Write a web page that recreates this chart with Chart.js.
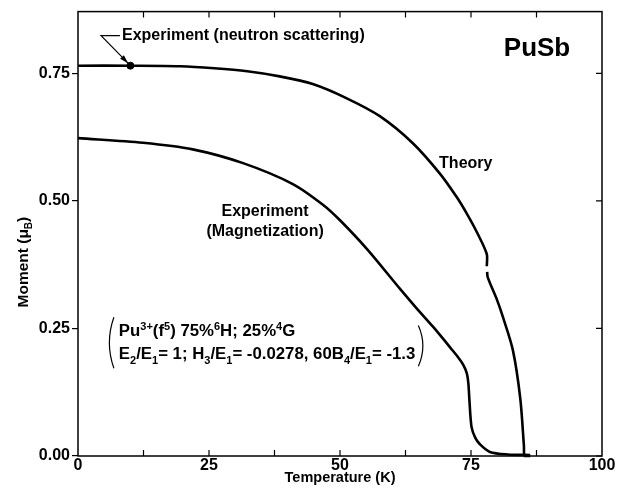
<!DOCTYPE html>
<html>
<head>
<meta charset="utf-8">
<script src="https://cdn.jsdelivr.net/npm/chart.js@4.4.1/dist/chart.umd.min.js"></script>
<style>
  html, body { margin: 0; padding: 0; background: #fff; }
</style>
</head>
<body>
<canvas id="chart" width="624" height="493"></canvas>
<script>
// calculated moment (null = pen lift in the curve near 78 K)
const theoryTemps = [0, 10, 19.5, 26, 32.3, 38.5, 44.8, 51.3, 57.6, 63.9, 69.1, 72.3, 74.2, 76.2, 78.0, 78.02, 78.05, 78.08, 78.2, 80.0, 81.1, 83.0, 84.4, 85.1, 85.25, 86.3];
const theoryMoments = [0.765, 0.765, 0.764, 0.760, 0.754, 0.744, 0.729, 0.701, 0.666, 0.613, 0.553, 0.507, 0.475, 0.437, 0.396, 0.372, null, 0.361, 0.350, 0.305, 0.272, 0.207, 0.113, 0.020, 0.0, 0.0];

// measured magnetization
const magTemps = [0, 12.4, 21.9, 31.5, 41.0, 46.8, 50.0, 55.2, 61.5, 64.5, 67.7, 69.1, 71.0, 72.5, 73.5, 74.2, 74.5, 74.7, 75.1, 75.8, 76.7, 78.6, 82.0, 86.3];
const magMoments = [0.623, 0.614, 0.601, 0.574, 0.533, 0.492, 0.462, 0.405, 0.327, 0.291, 0.254, 0.237, 0.213, 0.194, 0.179, 0.162, 0.142, 0.109, 0.057, 0.036, 0.023, 0.008, 0.003, 0.002];

// neutron scattering point
const neutronTemps = [10];
const neutronMoments = [0.765];

const xTickValues = [0, 25, 50, 75, 100];
const xMinorTicks = [12.5, 25, 37.5, 50, 62.5, 75, 87.5];
const yTickValues = [0, 0.25, 0.5, 0.75];

const FONT = '"Liberation Sans", Arial, sans-serif';
const toPoints = (xs, ys) => xs.map((x, i) => ({ x, y: ys[i] }));

function richWidth(ctx, parts, size) {
  let w = 0;
  parts.forEach(([txt, kind]) => {
    const s = kind ? Math.round(size * 0.66) : size;
    ctx.font = `bold ${s}px ${FONT}`;
    w += ctx.measureText(txt).width;
  });
  return w;
}

function drawRich(ctx, x, y, parts, size) {
  ctx.textAlign = 'left';
  ctx.textBaseline = 'alphabetic';
  let cx = x;
  parts.forEach(([txt, kind]) => {
    const s = kind ? Math.round(size * 0.66) : size;
    ctx.font = `bold ${s}px ${FONT}`;
    const dy = kind === 'sup' ? -size * 0.38 : kind === 'sub' ? size * 0.25 : 0;
    ctx.fillText(txt, cx, y + dy);
    cx += ctx.measureText(txt).width;
  });
  return cx;
}

const figurePlugin = {
  id: 'figure',
  afterDraw(chart) {
    const { ctx, chartArea: a, scales: { x, y } } = chart;
    const px = (v) => x.getPixelForValue(v);
    const py = (v) => y.getPixelForValue(v);
    ctx.save();
    ctx.strokeStyle = '#000';
    ctx.fillStyle = '#000';

    // frame
    ctx.lineWidth = 1.5;
    ctx.strokeRect(a.left, a.top, a.right - a.left, a.bottom - a.top);

    // inward ticks on top, bottom and right
    ctx.lineWidth = 1.2;
    ctx.beginPath();
    xMinorTicks.forEach((v) => {
      const xx = px(v);
      ctx.moveTo(xx, a.bottom);
      ctx.lineTo(xx, a.bottom - 6);
      ctx.moveTo(xx, a.top);
      ctx.lineTo(xx, a.top + 6);
    });
    yTickValues.forEach((v) => {
      const yy = py(v);
      ctx.moveTo(a.right, yy);
      ctx.lineTo(a.right - 6, yy);
    });
    ctx.stroke();

    // arrow to the neutron point
    const p0 = [px(8.0), py(0.824)];
    const p1 = [px(4.4), py(0.824)];
    const p2 = [px(9.55), py(0.770)];
    ctx.lineWidth = 1.2;
    ctx.beginPath();
    ctx.moveTo(...p0);
    ctx.lineTo(...p1);
    ctx.lineTo(...p2);
    ctx.stroke();
    const ang = Math.atan2(p2[1] - p1[1], p2[0] - p1[0]);
    ctx.beginPath();
    ctx.moveTo(p2[0], p2[1]);
    ctx.lineTo(p2[0] - 9 * Math.cos(ang - 0.3), p2[1] - 9 * Math.sin(ang - 0.3));
    ctx.lineTo(p2[0] - 9 * Math.cos(ang + 0.3), p2[1] - 9 * Math.sin(ang + 0.3));
    ctx.closePath();
    ctx.fill();

    // labels
    ctx.font = `bold 16px ${FONT}`;
    ctx.textAlign = 'left';
    ctx.textBaseline = 'middle';
    ctx.fillText('Experiment (neutron scattering)', px(8.4), py(0.824));
    ctx.textAlign = 'center';
    ctx.fillText('Theory', px(74.0), py(0.574));
    ctx.fillText('Experiment', px(35.7), py(0.480));
    ctx.fillText('(Magnetization)', px(35.7), py(0.439));
    ctx.font = `bold 26px ${FONT}`;
    ctx.fillText('PuSb', px(87.6), py(0.799));

    // crystal-field parameters
    const line1 = [['Pu'], ['3+', 'sup'], ['(f'], ['5', 'sup'], [') 75%'], ['6', 'sup'], ['H; 25%'], ['4', 'sup'], ['G']];
    const line2 = [['E'], ['2', 'sub'], ['/E'], ['1', 'sub'], ['= 1; H'], ['3', 'sub'], ['/E'], ['1', 'sub'], ['= -0.0278, 60B'], ['4', 'sub'], ['/E'], ['1', 'sub'], ['= -1.3']];
    const lx = px(7.8);
    drawRich(ctx, lx, py(0.246) + 6, line1, 16.8);
    const end2 = drawRich(ctx, lx, py(0.201) + 6, line2, 16.8);
    ctx.lineWidth = 1.2;
    ctx.beginPath();
    ctx.moveTo(lx - 5, py(0.272));
    ctx.quadraticCurveTo(lx - 14, py(0.222), lx - 5, py(0.172));
    ctx.moveTo(end2 + 3, py(0.256));
    ctx.quadraticCurveTo(end2 + 12, py(0.216), end2 + 3, py(0.176));
    ctx.stroke();

    // y axis title with subscript
    const yt = [['Moment ('], ['\u03bc'], ['B', 'sub'], [')']];
    const w = richWidth(ctx, yt, 15.5);
    ctx.translate(23, py(0.380));
    ctx.rotate(-Math.PI / 2);
    drawRich(ctx, -w / 2, 5, yt, 15.5);
    ctx.restore();
  }
};

new Chart(document.getElementById('chart'), {
  type: 'line',
  data: {
    datasets: [
      {
        label: 'Theory',
        data: toPoints(theoryTemps, theoryMoments),
        borderColor: '#000',
        borderWidth: 2.6,
        pointRadius: 0,
        tension: 0.3,
        spanGaps: false,
        clip: 4,
      },
      {
        label: 'Experiment (Magnetization)',
        data: toPoints(magTemps, magMoments),
        borderColor: '#000',
        borderWidth: 2.6,
        pointRadius: 0,
        tension: 0.3,
        clip: 4,
      },
      {
        label: 'Experiment (neutron scattering)',
        data: toPoints(neutronTemps, neutronMoments),
        showLine: false,
        pointRadius: 3.5,
        pointBackgroundColor: '#000',
        pointBorderColor: '#000',
        clip: 4,
      },
    ],
  },
  options: {
    responsive: false,
    animation: false,
    layout: { padding: { top: 10, right: 22, left: 0, bottom: 0 } },
    plugins: {
      legend: { display: false },
      tooltip: { enabled: false },
    },
    scales: {
      x: {
        type: 'linear',
        min: 0,
        max: 100,
        afterBuildTicks: (scale) => {
          scale.ticks = xTickValues.map((v) => ({ value: v }));
        },
        afterFit: (scale) => {
          scale.height = 37;
        },
        grid: { display: false, drawTicks: false },
        border: { display: false },
        ticks: {
          color: '#000',
          padding: 0,
          maxRotation: 0,
          autoSkip: false,
          font: { family: FONT, size: 16, weight: 'bold' },
        },
        title: {
          display: true,
          text: 'Temperature (K)',
          color: '#000',
          padding: { top: 0, bottom: 6 },
          font: { family: FONT, size: 14.5, weight: 'bold' },
        },
      },
      y: {
        type: 'linear',
        min: 0,
        max: 0.871,
        afterBuildTicks: (scale) => {
          scale.ticks = yTickValues.map((v) => ({ value: v }));
        },
        afterFit: (scale) => {
          scale.width = 78;
        },
        grid: {
          display: true,
          drawOnChartArea: false,
          drawTicks: true,
          tickLength: 6,
          color: '#000',
          lineWidth: 1.2,
        },
        border: { display: false },
        ticks: {
          color: '#000',
          padding: 2,
          font: { family: FONT, size: 16, weight: 'bold' },
          callback: (v) => v.toFixed(2),
        },
      },
    },
  },
  plugins: [figurePlugin],
});
</script>
</body>
</html>
